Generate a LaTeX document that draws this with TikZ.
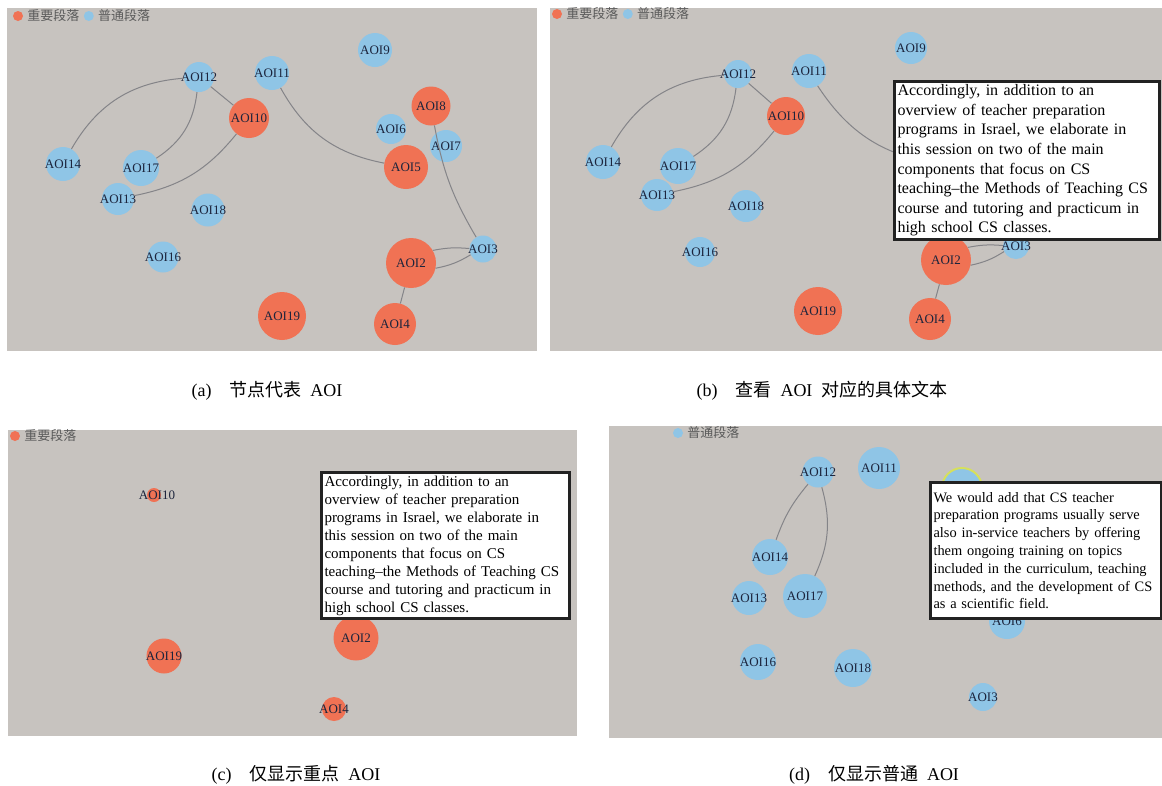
\documentclass[tikz,border=0pt]{standalone}
\usepackage{fontspec}
\setmainfont{Liberation Serif}
\newfontfamily\cjk{Noto Sans CJK SC}
\usetikzlibrary{positioning}

\definecolor{panelgrey}{RGB}{199,195,191}
\definecolor{impcol}{RGB}{240,114,84}
\definecolor{norcol}{RGB}{143,197,230}
\definecolor{tagcol}{RGB}{28,36,60}
\definecolor{linkcol}{RGB}{132,132,136}
\definecolor{legendcol}{RGB}{90,90,90}
\definecolor{popupcol}{RGB}{34,34,34}
\definecolor{ringcol}{RGB}{214,224,92}

\begin{document}
\begin{tikzpicture}
			[
				x = 1pt, y = -1pt,
				imp/.style = {circle, fill = impcol, inner sep = 0pt, minimum size = #1},
				nor/.style = {circle, fill = norcol, inner sep = 0pt, minimum size = #1},
				tag/.style = {font = \fontsize{13}{13}\selectfont, text = tagcol, inner sep = 0pt},
				link/.style = {draw = linkcol, line width = 1pt},
				panel/.style = {fill = panelgrey},
				legend/.style = {font = \cjk\fontsize{13}{13}\selectfont, text = legendcol, inner sep = 0pt, anchor = west},
				popup/.style = {draw = popupcol, line width = 3pt, fill = white, anchor = north west, align = left, inner xsep = 3pt, inner ysep = 2pt},
				caption/.style = {font = \fontsize{18}{18}\selectfont, inner sep = 0pt}
			]
			\useasboundingbox (0,0) rectangle (1162,785);

			% the four panels
			\fill[panel] (7,8) rectangle (537,351);
			\fill[panel] (550,8) rectangle (1162,351);
			\fill[panel] (8,430) rectangle (577,736);
			\fill[panel] (609,426) rectangle (1162,738);

			% (a) all AOIs
			\node[imp = 10pt] (aimpdot) at (18,16) {};
			\node[legend, right = 4pt of aimpdot] (aimptxt) {重要段落};
			\node[nor = 10pt, right = 4pt of aimptxt] (anordot) {};
			\node[legend, right = 4pt of anordot] (anortxt) {普通段落};

			\node[nor = 34pt, label = {[tag]center:AOI9}] (a9) at (375,50) {};
			\node[nor = 30pt, label = {[tag]center:AOI12}] (a12) at (199,77) {};
			\node[nor = 34pt, label = {[tag]center:AOI11}] (a11) at (272,73) {};
			\node[imp = 40pt, label = {[tag]center:AOI10}] (a10) at (249,118) {};
			\node[imp = 39pt, label = {[tag]center:AOI8}] (a8) at (431,106) {};
			\node[nor = 30pt, label = {[tag]center:AOI6}] (a6) at (391,129) {};
			\node[nor = 32pt, label = {[tag]center:AOI7}] (a7) at (446,146) {};
			\node[imp = 44pt, label = {[tag]center:AOI5}] (a5) at (406,167) {};
			\node[nor = 34pt, label = {[tag]center:AOI14}] (a14) at (63,164) {};
			\node[nor = 36pt, label = {[tag]center:AOI17}] (a17) at (141,168) {};
			\node[nor = 32pt, label = {[tag]center:AOI13}] (a13) at (118,199) {};
			\node[nor = 33pt, label = {[tag]center:AOI18}] (a18) at (208,210) {};
			\node[nor = 31pt, label = {[tag]center:AOI16}] (a16) at (163,257) {};
			\node[nor = 27pt, label = {[tag]center:AOI3}] (a3) at (483,249) {};
			\node[imp = 50pt, label = {[tag]center:AOI2}] (a2) at (411,263) {};
			\node[imp = 48pt, label = {[tag]center:AOI19}] (a19) at (282,316) {};
			\node[imp = 42pt, label = {[tag]center:AOI4}] (a4) at (395,324) {};

			\draw[link] (a12) to[bend right = 28] (a14);
			\draw[link] (a12) to[bend left = 25] (a17);
			\draw[link] (a12) -- (a10);
			\draw[link] (a10) to[bend left = 20] (a13);
			\draw[link] (a11) to[bend right = 25] (a5);
			\draw[link] (a8) to[bend right = 10] (a3);
			\draw[link] (a2.30) to[bend left = 8] (a3.178);
			\draw[link] (a2.-12) to[bend right = 10] (a3.205);
			\draw[link] (a2) -- (a4);

			% (b) text of one AOI
			\node[imp = 10pt] (bimpdot) at (557,14) {};
			\node[legend, right = 4pt of bimpdot] (bimptxt) {重要段落};
			\node[nor = 10pt, right = 4pt of bimptxt] (bnordot) {};
			\node[legend, right = 4pt of bnordot] (bnortxt) {普通段落};

			\node[nor = 32pt, label = {[tag]center:AOI9}] (b9) at (911,48) {};
			\node[nor = 28pt, label = {[tag]center:AOI12}] (b12) at (738,74) {};
			\node[nor = 34pt, label = {[tag]center:AOI11}] (b11) at (809,71) {};
			\node[imp = 38pt, label = {[tag]center:AOI10}] (b10) at (786,116) {};
			\node[nor = 34pt, label = {[tag]center:AOI14}] (b14) at (603,162) {};
			\node[nor = 36pt, label = {[tag]center:AOI17}] (b17) at (678,166) {};
			\node[nor = 32pt, label = {[tag]center:AOI13}] (b13) at (657,195) {};
			\node[nor = 32pt, label = {[tag]center:AOI18}] (b18) at (746,206) {};
			\node[nor = 30pt, label = {[tag]center:AOI16}] (b16) at (700,252) {};
			\node[nor = 26pt, label = {[tag]center:AOI3}] (b3) at (1016,246) {};
			\node[imp = 50pt, label = {[tag]center:AOI2}] (b2) at (946,260) {};
			\node[imp = 48pt, label = {[tag]center:AOI19}] (b19) at (818,311) {};
			\node[imp = 42pt, label = {[tag]center:AOI4}] (b4) at (930,319) {};
			\coordinate (b5) at (943,164);

			\draw[link] (b12) to[bend right = 28] (b14);
			\draw[link] (b12) to[bend left = 25] (b17);
			\draw[link] (b12) -- (b10);
			\draw[link] (b10) to[bend left = 20] (b13);
			\draw[link] (b11) to[bend right = 25] (b5);
			\draw[link] (b2.30) to[bend left = 8] (b3.178);
			\draw[link] (b2.-12) to[bend right = 10] (b3.205);
			\draw[link] (b2) -- (b4);

			\node[popup, text width = 259pt, minimum height = 158pt, font = \fontsize{16}{19.6}\selectfont] (bnote) at (893,80)
				{Accordingly, in addition to an\\
				overview of teacher preparation\\
				programs in Israel, we elaborate in\\
				this session on two of the main\\
				components that focus on CS\\
				teaching--the Methods of Teaching CS\\
				course and tutoring and practicum in\\
				high school CS classes.};

			% (c) important AOIs only
			\node[imp = 10pt] (cimpdot) at (15,436) {};
			\node[legend, right = 4pt of cimpdot] (cimptxt) {重要段落};

			\node[imp = 14pt, label = {[tag, xshift = 3pt]center:AOI10}] (c10) at (154,495) {};
			\node[imp = 45pt, label = {[tag]center:AOI2}] (c2) at (356,638) {};
			\node[imp = 35pt, label = {[tag]center:AOI19}] (c19) at (164,656) {};
			\node[imp = 24pt, label = {[tag]center:AOI4}] (c4) at (334,709) {};

			\node[popup, text width = 242pt, minimum height = 146pt, font = \fontsize{15}{18}\selectfont] (cnote) at (320,471)
				{Accordingly, in addition to an\\
				overview of teacher preparation\\
				programs in Israel, we elaborate in\\
				this session on two of the main\\
				components that focus on CS\\
				teaching--the Methods of Teaching CS\\
				course and tutoring and practicum in\\
				high school CS classes.};

			% (d) ordinary AOIs only
			\node[nor = 10pt] (dnordot) at (678,433) {};
			\node[legend, right = 4pt of dnordot] (dnortxt) {普通段落};

			\node[nor = 31pt, label = {[tag]center:AOI12}] (d12) at (818,472) {};
			\node[nor = 42pt, label = {[tag]center:AOI11}] (d11) at (879,468) {};
			\node[nor = 36pt, label = {[tag]center:AOI14}] (d14) at (770,557) {};
			\node[nor = 34pt, label = {[tag]center:AOI13}] (d13) at (749,598) {};
			\node[nor = 44pt, label = {[tag]center:AOI17}] (d17) at (805,596) {};
			\node[nor = 36pt, label = {[tag]center:AOI16}] (d16) at (758,662) {};
			\node[nor = 38pt, label = {[tag]center:AOI18}] (d18) at (853,668) {};
			\node[nor = 28pt, label = {[tag]center:AOI3}] (d3) at (983,697) {};
			\node[nor = 36pt, label = {[tag]center:AOI6}] (d6) at (1007,621) {};
			\node[nor = 40pt, draw = ringcol, line width = 2pt] (dsel) at (962,488) {};

			\draw[link] (d12) to[bend right = 10] (d14);
			\draw[link] (d12) to[bend left = 20] (d17);

			\node[popup, text width = 225pt, minimum height = 136pt, font = \fontsize{14.4}{17.8}\selectfont] (dnote) at (929,481)
				{We would add that CS teacher\\
				preparation programs usually serve\\
				also in-service teachers by offering\\
				them ongoing training on topics\\
				included in the curriculum, teaching\\
				methods, and the development of CS\\
				as a scientific field.};

			% captions
			\node[caption] (capa) at (267,391) {(a)\quad{\cjk 节点代表}\enspace AOI};
			\node[caption] (capb) at (822,391) {(b)\quad{\cjk 查看}\enspace AOI\enspace{\cjk 对应的具体文本}};
			\node[caption] (capc) at (296,775) {(c)\quad{\cjk 仅显示重点}\enspace AOI};
			\node[caption] (capd) at (874,775) {(d)\quad{\cjk 仅显示普通}\enspace AOI};
			\end{tikzpicture}
\end{document}
